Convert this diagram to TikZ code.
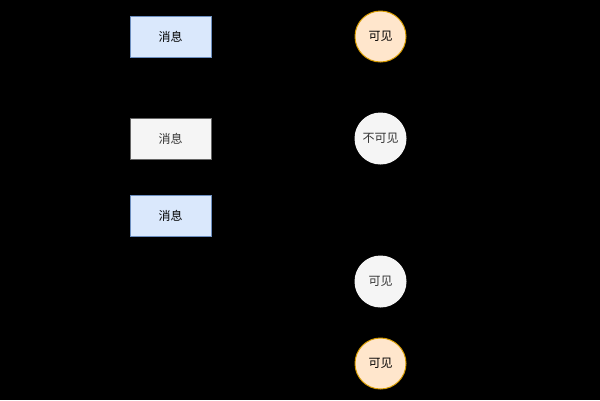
\documentclass[tikz,border=0pt]{standalone}
\usepackage{fontspec}
\setmainfont{Noto Sans CJK SC}
\definecolor{blueFill}{HTML}{DAE8FC}
\definecolor{blueLine}{HTML}{6C8EBF}
\definecolor{grayFill}{HTML}{F5F5F5}
\definecolor{grayLine}{HTML}{666666}
\definecolor{grayText}{HTML}{333333}
\definecolor{orangeFill}{HTML}{FFE6CC}
\definecolor{orangeLine}{HTML}{D79B00}
\begin{document}
\begin{tikzpicture}[
        x = 1pt, y = -1pt,
        font = \fontsize{12}{14}\selectfont,
        msg/.style = {draw, line width=1pt, minimum width=81pt, minimum height=41pt, inner sep=0pt},
        seen/.style = {circle, draw, line width=1pt, minimum size=51pt, inner sep=0pt}]
      \fill (0, 0) rectangle (600, 400);
      \node [msg, fill=blueFill, draw=blueLine] (msgA) at (170.5, 36.5) {消息};
      \node [msg, fill=grayFill, draw=grayLine, text=grayText] (msgB) at (170.5, 138.5) {消息};
      \node [msg, fill=blueFill, draw=blueLine] (msgC) at (170.5, 215.5) {消息};
      \node [seen, fill=orangeFill, draw=orangeLine] (visA) at (380.5, 36.5) {可见};
      \node [seen, fill=grayFill, draw=grayFill, text=grayText] (hidB) at (380.5, 138.5) {不可见};
      \node [seen, fill=grayFill, draw=grayFill, text=grayText] (visC) at (380.5, 281.5) {可见};
      \node [seen, fill=orangeFill, draw=orangeLine] (visD) at (380.5, 363.5) {可见};
    \end{tikzpicture}
\end{document}
